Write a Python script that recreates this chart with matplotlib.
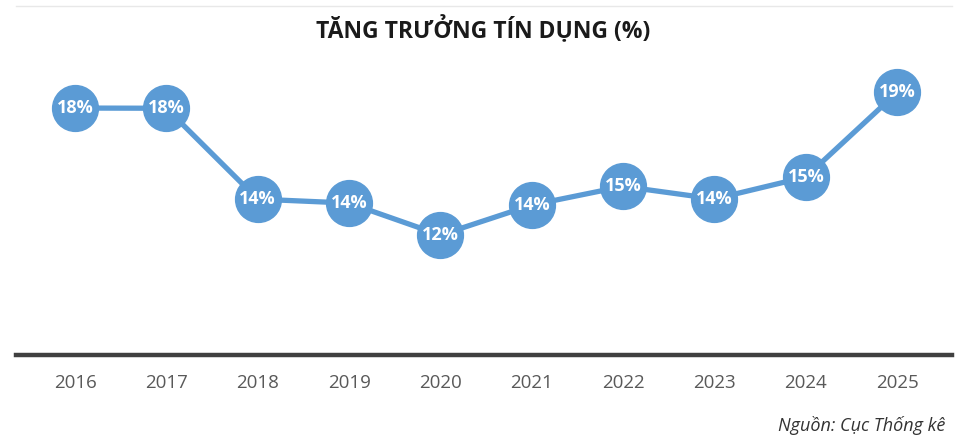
import matplotlib.pyplot as plt
from matplotlib.lines import Line2D

years = ['2016', '2017', '2018', '2019', '2020', '2021', '2022', '2023', '2024', '2025']
growth = [18.25, 18.24, 13.89, 13.70, 12.17, 13.61, 14.50, 13.90, 14.95, 19.0]
labels = ['18%', '18%', '14%', '14%', '12%', '14%', '15%', '14%', '15%', '19%']

blue = '#5b9bd5'
font = ['Liberation Sans Narrow', 'Open Sans', 'DejaVu Sans']

fig = plt.figure(figsize=(9.67, 4.40), dpi=100)
ax = fig.add_axes([16 / 967, 1 - 355 / 440, (952 - 16) / 967, (355 - 60) / 440])

x = list(range(len(years)))
ax.plot(x, growth, color=blue, lw=3.8, marker='o', markersize=33,
        markerfacecolor=blue, markeredgecolor=blue, zorder=3)
for xi, yi, lab in zip(x, growth, labels):
    ax.text(xi, yi, lab, ha='center', va='center', color='white',
            fontsize=13, fontweight='bold', family=font, zorder=4)

ax.set_xlim(-0.646, 9.6)
ax.set_ylim(6.43, 20.55)
for s in ['top', 'right', 'left']:
    ax.spines[s].set_visible(False)
ax.spines['bottom'].set_color('#404040')
ax.spines['bottom'].set_linewidth(3.2)
ax.set_yticks([])
ax.set_xticks(x)
ax.set_xticklabels(years, fontsize=13.5, color='#595959', family=font)
ax.tick_params(axis='x', length=0, pad=14)

fig.text(0.5, 1 - 30 / 440, 'TĂNG TRƯỞNG TÍN DỤNG (%)', ha='center', va='center',
         fontsize=16.5, fontweight='bold', color='#1a1a1a', family=font)
fig.text(945 / 967, 1 - 425 / 440, 'Nguồn: Cục Thống kê', ha='right', va='center',
         fontsize=13, style='italic', color='#333333', family=font)
fig.add_artist(Line2D([16 / 967, 952 / 967], [1 - 6 / 440, 1 - 6 / 440],
                      transform=fig.transFigure, color='#e8e8e8', lw=1))

fig.savefig('out.png', dpi=100)
